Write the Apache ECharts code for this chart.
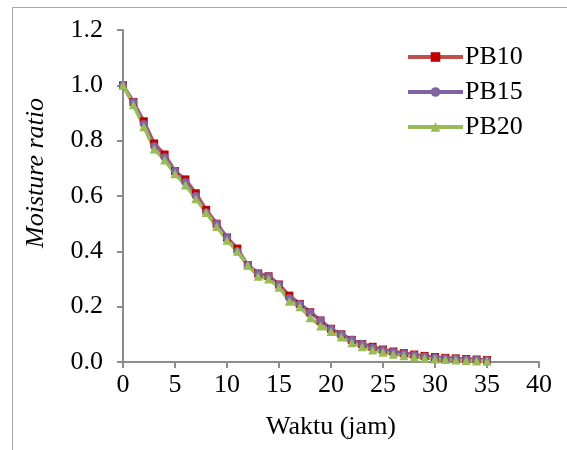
<!DOCTYPE html>
<html>
<head>
<meta charset="utf-8">
<script src="https://cdn.jsdelivr.net/npm/echarts@6/dist/echarts.min.js"></script>
<style>
html,body{margin:0;padding:0;background:#fff;}
#chart{width:567px;height:450px;}
</style>
</head>
<body>
<div id="chart"></div>
<script>
var hours = [0,1,2,3,4,5,6,7,8,9,10,11,12,13,14,15,16,17,18,19,20,21,22,23,24,25,26,27,28,29,30,31,32,33,34,35];
var pb10 = [1.00,0.94,0.87,0.79,0.75,0.69,0.66,0.61,0.55,0.50,0.45,0.41,0.35,0.32,0.31,0.28,0.24,0.21,0.18,0.15,0.12,0.10,0.08,0.065,0.055,0.045,0.038,0.032,0.027,0.022,0.018,0.015,0.013,0.011,0.009,0.007];
var pb15 = [1.00,0.94,0.86,0.78,0.74,0.69,0.65,0.60,0.54,0.50,0.45,0.40,0.35,0.32,0.31,0.28,0.23,0.21,0.18,0.15,0.12,0.10,0.08,0.065,0.052,0.043,0.036,0.030,0.025,0.020,0.016,0.014,0.012,0.010,0.008,0.006];
var pb20 = [1.00,0.93,0.85,0.77,0.73,0.68,0.64,0.59,0.54,0.49,0.44,0.40,0.35,0.31,0.30,0.27,0.22,0.20,0.16,0.13,0.11,0.09,0.07,0.055,0.043,0.035,0.028,0.023,0.018,0.014,0.011,0.009,0.007,0.005,0.004,0.003];
var seriesNames = ['PB10','PB15','PB20'];
var xTitle = 'Waktu (jam)';
var yTitle = 'Moisture ratio';

function pairs(arr){ return hours.map(function(h,i){ return [h, arr[i]]; }); }

var font = 'Liberation Serif, Times New Roman, serif';
var fs = 26;
var chart = echarts.init(document.getElementById('chart'), null, {renderer:'canvas'});
chart.setOption({
  animation:false,
  backgroundColor:'#fff',
  textStyle:{fontFamily:font},
  graphic:[
    {type:'rect', shape:{x:12.5,y:7.5,width:700,height:600}, style:{fill:'none', stroke:'#a6a6a6', lineWidth:1}, silent:true, z:-10},
    {type:'text', x:36, y:173, rotation:Math.PI/2, style:{text:yTitle, font:'italic 26px Liberation Serif', fill:'#000', align:'center', verticalAlign:'middle'}}
  ],
  grid:{left:123, right:28, top:30, bottom:88, containLabel:false},
  legend:{
    left:401, top:39, orient:'vertical', itemWidth:55, itemHeight:12, itemGap:9,
    lineStyle:{width:4},
    textStyle:{fontFamily:font, fontSize:fs, lineHeight:26, color:'#000', padding:[0,0,0,-3]},
    data:seriesNames
  },
  xAxis:{
    type:'value', min:0, max:40, interval:5,
    name:xTitle, nameLocation:'middle', nameGap:52,
    nameTextStyle:{fontFamily:font, fontSize:fs, color:'#000'},
    axisLine:{lineStyle:{color:'#8c8c8c', width:2}},
    axisTick:{show:true, inside:false, length:6, lineStyle:{color:'#8c8c8c', width:2}},
    axisLabel:{fontFamily:font, fontSize:fs, color:'#000', margin:10},
    splitLine:{show:false}
  },
  yAxis:{
    type:'value', min:0, max:1.2, interval:0.2,
    axisLine:{show:true, lineStyle:{color:'#8c8c8c', width:2}},
    axisTick:{show:true, inside:false, length:6, lineStyle:{color:'#8c8c8c', width:2}},
    axisLabel:{fontFamily:font, fontSize:fs, color:'#000', margin:20, formatter:function(v){return v.toFixed(1);}},
    splitLine:{show:false}
  },
  series:[
    {name:'PB10', type:'line', data:pairs(pb10), symbol:'rect', symbolSize:8,
      lineStyle:{color:'#C0504D', width:3.5}, itemStyle:{color:'#C00000'}},
    {name:'PB15', type:'line', data:pairs(pb15), symbol:'circle', symbolSize:8,
      lineStyle:{color:'#8064A2', width:3.5}, itemStyle:{color:'#8064A2'}},
    {name:'PB20', type:'line', data:pairs(pb20), symbol:'triangle', symbolSize:9,
      lineStyle:{color:'#9BBB59', width:3.5}, itemStyle:{color:'#9BBB59'}}
  ]
});
</script>
</body>
</html>
